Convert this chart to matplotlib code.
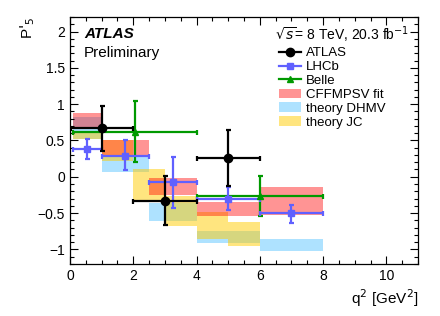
import matplotlib
matplotlib.use("Agg")
import matplotlib.pyplot as plt
import numpy as np
from matplotlib.lines import Line2D
from matplotlib.patches import Patch
from matplotlib.ticker import MultipleLocator

plt.rcParams["font.family"] = ["Liberation Sans", "DejaVu Sans"]

# ATLAS data
atlas_lo = [0.04, 2.0, 4.0]
atlas_hi = [2.0, 4.0, 6.0]
atlas_x = [1.0, 3.0, 5.0]
atlas_val = [0.67, -0.33, 0.26]
atlas_err = [0.31, 0.34, 0.39]

# LHCb data
lhcb_lo = [0.1, 1.0, 2.5, 4.0, 6.0]
lhcb_hi = [1.0, 2.5, 4.0, 6.0, 8.0]
lhcb_val = [0.387, 0.289, -0.066, -0.300, -0.505]
lhcb_up = [0.14, 0.22, 0.34, 0.16, 0.12]
lhcb_dn = [0.14, 0.20, 0.37, 0.16, 0.13]

# Belle data
belle_lo = [0.1, 4.0]
belle_hi = [4.0, 8.0]
belle_val = [0.62, -0.27]
belle_up = [0.42, 0.28]
belle_dn = [0.41, 0.27]

# theory bands
cff_lo_edge = [0.1, 1.0, 2.5, 4.0, 6.0]
cff_hi_edge = [1.0, 2.5, 4.0, 6.0, 8.0]
cff_lo = [0.69, 0.30, -0.25, -0.54, -0.53]
cff_hi = [0.88, 0.51, -0.02, -0.35, -0.14]

dhmv_lo_edge = [0.1, 1.0, 2.5, 4.0, 6.0]
dhmv_hi_edge = [1.0, 2.5, 4.0, 6.0, 8.0]
dhmv_lo = [0.52, 0.07, -0.61, -0.91, -1.02]
dhmv_hi = [0.82, 0.29, -0.36, -0.75, -0.86]

jc_lo_edge = [0.1, 1.0, 2.0, 3.0, 4.0, 5.0]
jc_hi_edge = [1.0, 2.0, 3.0, 4.0, 5.0, 6.0]
jc_lo = [0.52, 0.22, -0.35, -0.68, -0.86, -0.95]
jc_hi = [0.62, 0.51, 0.10, -0.27, -0.49, -0.63]

c_red = (1.0, 0.0, 0.0, 0.42)
c_blue = (0.3, 0.75, 1.0, 0.45)
c_yellow = (1.0, 0.8, 0.0, 0.5)
c_lhcb = "#6060ff"
c_belle = "#009900"


def band(ax, lo_e, hi_e, lo, hi, color):
    lo_e, hi_e, lo, hi = map(np.array, (lo_e, hi_e, lo, hi))
    ax.bar(lo_e, hi - lo, width=hi_e - lo_e, bottom=lo, align="edge",
           color=color, linewidth=0, zorder=1)


def points(ax, lo, hi, val, dn, up, color, marker, ms, x=None):
    lo, hi = np.array(lo), np.array(hi)
    if x is None:
        x = (lo + hi) / 2
    x = np.array(x)
    ax.errorbar(x, val, xerr=[x - lo, hi - x], yerr=[dn, up], fmt=marker,
                color=color, ms=ms, lw=1.6, capsize=1.8, capthick=1.6, zorder=3)


fig = plt.figure(figsize=(4.4, 3.16), dpi=100)
ax = fig.add_axes([0.159, 0.165, 0.791, 0.781])

band(ax, dhmv_lo_edge, dhmv_hi_edge, dhmv_lo, dhmv_hi, c_blue)
band(ax, jc_lo_edge, jc_hi_edge, jc_lo, jc_hi, c_yellow)
band(ax, cff_lo_edge, cff_hi_edge, cff_lo, cff_hi, c_red)

points(ax, belle_lo, belle_hi, belle_val, belle_dn, belle_up, c_belle, "^", 5)
points(ax, lhcb_lo, lhcb_hi, lhcb_val, lhcb_dn, lhcb_up, c_lhcb, "s", 4)
points(ax, atlas_lo, atlas_hi, atlas_val, atlas_err, atlas_err, "black", "o", 6, x=atlas_x)

ax.set_xlim(0, 11)
ax.set_ylim(-1.2, 2.2)
ax.xaxis.set_major_locator(MultipleLocator(2))
ax.xaxis.set_minor_locator(MultipleLocator(0.5))
ax.yaxis.set_major_locator(MultipleLocator(0.5))
ax.yaxis.set_minor_locator(MultipleLocator(0.1))
ax.set_yticks([-1, -0.5, 0, 0.5, 1, 1.5, 2])
ax.set_yticklabels(["\u22121", "\u22120.5", "0", "0.5", "1", "1.5", "2"])
ax.tick_params(which="both", direction="in", top=True, right=True, labelsize=10)
ax.tick_params(which="major", length=6, width=0.8)
ax.tick_params(which="minor", length=3, width=0.8)
for s in ax.spines.values():
    s.set_linewidth(0.9)

fig.text(0.063, 0.946, "P$'_5$", rotation=90, ha="center", va="top", fontsize=11)
fig.text(0.95, 0.09, "q$^2$ [GeV$^2$]", ha="right", va="top", fontsize=11)

ax.text(0.04, 0.93, "ATLAS", transform=ax.transAxes, fontsize=11,
        fontweight="bold", fontstyle="italic", va="center")
ax.text(0.04, 0.855, "Preliminary", transform=ax.transAxes, fontsize=11, va="center")
ax.text(0.975, 0.93, "$\\sqrt{s}$= 8 TeV, 20.3 fb$^{-1}$", transform=ax.transAxes,
        fontsize=10, ha="right", va="center")

handles = [
    Line2D([], [], color="black", marker="o", ms=6, lw=1.6),
    Line2D([], [], color=c_lhcb, marker="s", ms=4, lw=1.6),
    Line2D([], [], color=c_belle, marker="^", ms=5, lw=1.6),
    Patch(color=c_red, lw=0),
    Patch(color=c_blue, lw=0),
    Patch(color=c_yellow, lw=0),
]
labels = ["ATLAS", "LHCb", "Belle", "CFFMPSV fit", "theory DHMV", "theory JC"]
ax.legend(handles, labels, loc="upper left", bbox_to_anchor=(0.602, 0.878),
          frameon=False, fontsize=9.5, handlelength=1.6, handletextpad=0.4,
          labelspacing=0.12, borderpad=0, borderaxespad=0)

fig.savefig("out.png", dpi=100)
